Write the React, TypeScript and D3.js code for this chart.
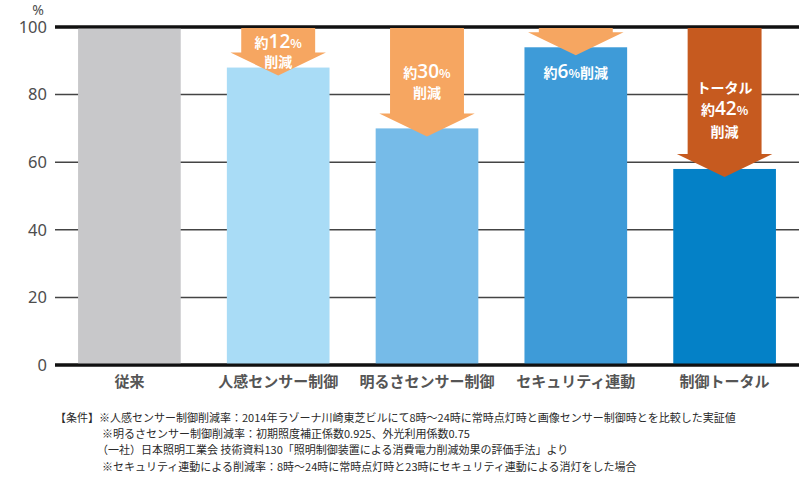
import React from "react";
import * as d3 from "d3";

const categories = ["従来", "人感センサー制御", "明るさセンサー制御", "セキュリティ連動", "制御トータル"];
const values = [100, 88, 70, 94, 58];
const barColors = ["#c8c8ca", "#a9dcf6", "#76bbe8", "#3e9bd8", "#0481c7"];
const yTicks = [0, 20, 40, 60, 80, 100];
// arrow label lines per category (null = no arrow)
const arrowLines: (string[][] | null)[] = [
  null,
  [["約", "12", "%"], ["削減"]],
  [["約", "30", "%"], ["削減"]],
  [["約", "6", "%", "削減"]],
  [["トータル"], ["約", "42", "%"], ["削減"]],
];
const arrowColors = [null, "#f6a661", "#f6a661", "#f6a661", "#c65a1f"];
const arrowInside = [false, false, false, true, false];
const notes = [
  "【条件】※人感センサー制御削減率：2014年ラゾーナ川崎東芝ビルにて8時～24時に常時点灯時と画像センサー制御時とを比較した実証値",
  "※明るさセンサー制御削減率：初期照度補正係数0.925、外光利用係数0.75",
  "（一社）日本照明工業会 技術資料130「照明制御装置による消費電力削減効果の評価手法」より",
  "※セキュリティ連動による削減率：8時～24時に常時点灯時と23時にセキュリティ連動による消灯をした場合",
];

const W = 800;
const H = 480;
const FONT = "'Noto Sans CJK JP', 'Noto Sans', sans-serif";

function Seg({ parts }: { parts: string[] }) {
  return (
    <>
      {parts.map((p, i) => {
        const isNum = /^[0-9]+$/.test(p);
        const isPct = p === "%";
        return (
          <tspan key={i} fontSize={isNum ? 19 : isPct ? 12 : 14} fontFamily={isNum ? "'Open Sans', sans-serif" : FONT} fontWeight={isNum ? 600 : 700}>
            {p}
          </tspan>
        );
      })}
    </>
  );
}

export default function App() {
  const x = d3.scaleBand<string>().domain(categories).range([55, 799]).paddingInner(0.31).paddingOuter(0.155);
  const y = d3.scaleLinear().domain([0, 100]).range([365, 27]);
  const bw = x.bandwidth();

  return (
    <svg width={W} height={H} style={{ position: "absolute", left: 0, top: 0, background: "#fff" }} fontFamily={FONT}>
      {/* gridlines */}
      {yTicks.map((t) => (
        <line
          key={t}
          x1={55}
          x2={799}
          y1={y(t)}
          y2={y(t)}
          stroke={t === 0 || t === 100 ? "#111" : "#444"}
          strokeWidth={t === 0 || t === 100 ? 3 : 1.5}
        />
      ))}
      {yTicks.map((t) => (
        <text key={"l" + t} x={47} y={y(t)} dy="0.35em" textAnchor="end" fontSize={16.5} fill="#4d4d4d" fontFamily="'Noto Sans', sans-serif">
          {t}
        </text>
      ))}
      <text x={38} y={15} textAnchor="middle" fontSize={14} fill="#4d4d4d" fontFamily="'Noto Sans', sans-serif">
        %
      </text>
      {/* bars */}
      {categories.map((c, i) => (
        <rect key={c} x={x(c)} y={y(values[i])} width={bw} height={y(0) - y(values[i])} fill={barColors[i]} />
      ))}
      {/* redraw baselines over bars */}
      <line x1={55} x2={799} y1={y(0)} y2={y(0)} stroke="#111" strokeWidth={3} />
      <line x1={55} x2={799} y1={y(100)} y2={y(100)} stroke="#111" strokeWidth={3} />
      {/* arrows */}
      {categories.map((c, i) => {
        const lines = arrowLines[i];
        if (!lines) return null;
        const cx = (x(c) as number) + bw / 2;
        const top = y(100) + 1;
        const barTop = y(values[i]);
        const headStart = barTop - 15;
        const tip = barTop + 8;
        const sw = bw * 0.36;
        const hw = bw * 0.465;
        const path = d3.path();
        path.moveTo(cx - sw, top);
        path.lineTo(cx + sw, top);
        path.lineTo(cx + sw, headStart);
        path.lineTo(cx + hw, headStart);
        path.lineTo(cx, tip);
        path.lineTo(cx - hw, headStart);
        path.lineTo(cx - sw, headStart);
        path.closePath();
        const lh = lines.length > 2 ? 22 : 19.5;
        let startY: number;
        if (arrowInside[i]) {
          startY = barTop + 25;
        } else {
          const mid = (top + tip) / 2 + (lines.length > 2 ? 7 : 0);
          startY = mid - ((lines.length - 1) * lh) / 2;
        }
        return (
          <g key={"a" + c}>
            <path d={path.toString()} fill={arrowColors[i] as string} />
            {lines.map((ln, j) => (
              <text key={j} x={cx} y={startY + j * lh} dy="0.35em" textAnchor="middle" fill="#fff">
                <Seg parts={ln} />
              </text>
            ))}
          </g>
        );
      })}
      {/* category labels */}
      {categories.map((c) => (
        <text key={"c" + c} x={(x(c) as number) + bw / 2} y={382} dy="0.35em" textAnchor="middle" fontSize={15} fontWeight={700} fill="#555">
          {c}
        </text>
      ))}
      {/* notes */}
      {notes.map((n, i) => (
        <text key={"n" + i} x={i === 0 ? 55 : i === 2 ? 97 : 102} y={[418, 434, 450, 467][i]} dy="0.35em" fontSize={11} fill="#2a2a2a">
          {n}
        </text>
      ))}
    </svg>
  );
}
